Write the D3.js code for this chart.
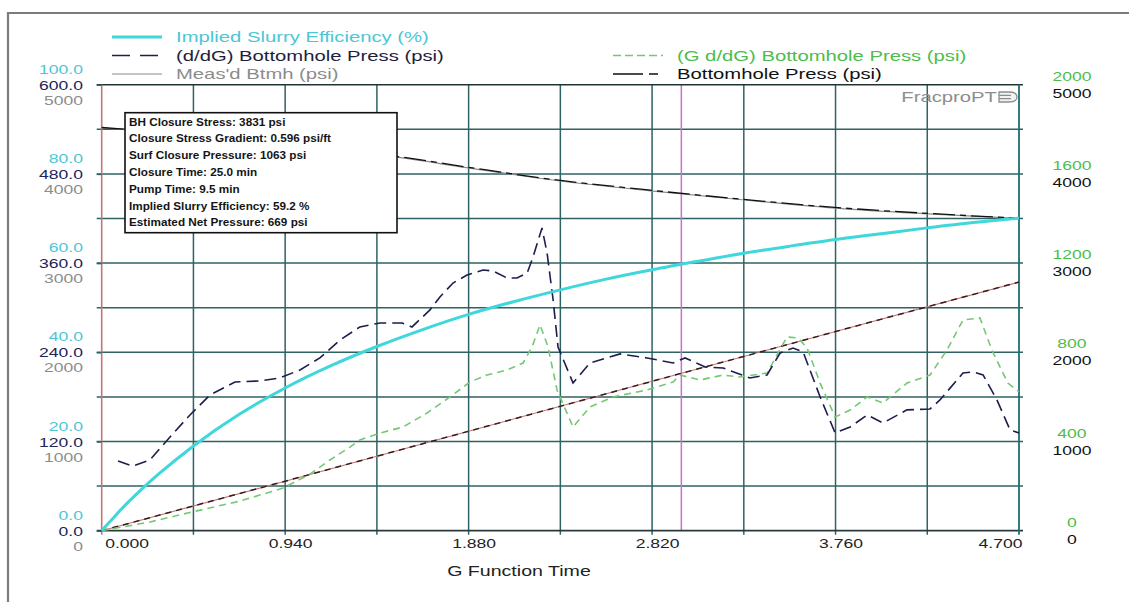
<!DOCTYPE html>
<html>
<head>
<meta charset="utf-8">
<script src="https://cdn.jsdelivr.net/npm/d3@7"></script>
<style>
  body { margin: 0; background: #fff; }
  svg { display: block; }
  text { font-family: "Liberation Sans", Arial, sans-serif; }
</style>
</head>
<body>
<svg id="chart" width="1129" height="602"></svg>
<script>
// ---- axis ticks ----
const gTicks = [0, 0.94, 1.88, 2.82, 3.76, 4.70];
const gTickLabels = ["0.000", "0.940", "1.880", "2.820", "3.760", "4.700"];
const effTicks = [0, 20, 40, 60, 80, 100];
const dpTicks = [0, 120, 240, 360, 480, 600];
const measTicks = [0, 1000, 2000, 3000, 4000, 5000];
const gdpTicks = [0, 400, 800, 1200, 1600, 2000];
const bhTicks = [0, 1000, 2000, 3000, 4000, 5000];

// ---- series ----
const effG   = [0, 0.05, 0.1, 0.2, 0.3, 0.47, 0.705, 0.94, 1.175, 1.41, 1.645, 1.88, 2.115, 2.35, 2.585, 2.82, 3.055, 3.29, 3.525, 3.76, 3.995, 4.23, 4.465, 4.7];
const effPct = [0, 2.4, 4.8, 9.1, 13.0, 19.0, 26.1, 32.0, 37.0, 41.3, 45.1, 48.5, 51.4, 54.0, 56.4, 58.5, 60.4, 62.2, 63.8, 65.3, 66.6, 67.9, 69.1, 70.1];

const dpG = [0.084, 0.160, 0.247, 0.350, 0.452, 0.555, 0.683, 0.811, 0.913, 1.016, 1.118, 1.221, 1.323, 1.426, 1.539, 1.590, 1.682, 1.733, 1.800, 1.872, 1.954, 2.005, 2.077, 2.128, 2.180, 2.210, 2.256, 2.282, 2.313, 2.338, 2.415, 2.502, 2.656, 2.794, 2.928, 2.989, 3.092, 3.184, 3.281, 3.322, 3.409, 3.476, 3.542, 3.594, 3.681, 3.758, 3.835, 3.922, 4.003, 4.126, 4.244, 4.295, 4.413, 4.464, 4.516, 4.587, 4.654, 4.700];
const dpPsi = [93.8, 86.9, 95.1, 126.1, 155.7, 182.6, 200.1, 201.5, 205.5, 216.3, 232.4, 256.6, 274.1, 279.5, 279.5, 274.1, 297.0, 314.4, 333.2, 344.0, 350.7, 349.4, 340.0, 340.0, 346.7, 368.2, 407.2, 373.6, 310.4, 247.2, 198.7, 225.7, 237.8, 232.4, 225.7, 232.4, 220.2, 218.9, 209.5, 205.5, 209.5, 239.1, 245.8, 240.4, 179.9, 131.5, 139.5, 155.7, 145.0, 162.5, 163.8, 175.9, 212.2, 213.6, 209.5, 175.9, 135.6, 131.5];

const gdpG = [0, 0.247, 0.463, 0.709, 0.929, 1.067, 1.169, 1.272, 1.323, 1.426, 1.544, 1.667, 1.785, 1.887, 1.974, 2.077, 2.159, 2.205, 2.246, 2.287, 2.333, 2.415, 2.502, 2.620, 2.794, 2.928, 2.963, 3.066, 3.184, 3.271, 3.409, 3.511, 3.568, 3.614, 3.681, 3.758, 3.835, 3.922, 4.003, 4.126, 4.244, 4.331, 4.413, 4.500, 4.561, 4.643, 4.700];
const gdpPsi = [0, 39, 84, 133, 191, 254, 317, 375, 407, 438, 465, 528, 600, 667, 698, 721, 752, 824, 923, 824, 631, 465, 555, 600, 631, 667, 698, 676, 698, 689, 707, 869, 864, 820, 662, 510, 541, 600, 573, 662, 698, 810, 945, 954, 810, 662, 622];

const tangentG = [0, 0.94, 1.88, 2.82, 3.76, 4.70];
const tangentPsi = [0, 222, 446, 670, 893, 1115];

const bhG   = [0, 0.12, 0.4, 0.8, 1.2, 1.53, 1.87, 2.33, 2.8, 3.28, 3.74, 4.21, 4.7];
const bhPsi = [4520, 4500, 4440, 4360, 4270, 4190, 4077, 3932, 3820, 3716, 3627, 3560, 3503];
const measG   = [0, 0.12, 0.4, 0.8, 1.2, 1.53, 1.87, 2.33, 2.8, 3.28, 3.74, 4.21, 4.7];
const measPsi = [4515, 4495, 4432, 4352, 4262, 4182, 4070, 3926, 3812, 3710, 3620, 3555, 3500];

const closureG = 2.97;

const infoLines = [
  "BH Closure Stress: 3831 psi",
  "Closure Stress Gradient: 0.596 psi/ft",
  "Surf Closure Pressure: 1063 psi",
  "Closure Time: 25.0 min",
  "Pump Time: 9.5 min",
  "Implied Slurry Efficiency: 59.2 %",
  "Estimated Net Pressure: 669 psi"
];

// ---- colours ----
const C = {
  eff: "#3fd6dc", effText: "#4cc6d6",
  dp: "#1d1d4e", dpText: "#23235a",
  meas: "#8a8a8a", measText: "#8c8c8c",
  gdp: "#74c874", gdpText: "#4cbd4c",
  bh: "#111111",
  tangentLine: "#c27272", tangentDash: "#3a1c1c",
  grid: "#2f6262", closure: "#cf6fc9"
};

const svg = d3.select("#chart");
const L = 101.7, R = 1019, T = 84.7, B = 530.7;

const x = d3.scaleLinear().domain([0, 4.7]).range([L, R]);
const yEff = d3.scaleLinear().domain([0, 100]).range([B, T]);
const yDp = d3.scaleLinear().domain([0, 600]).range([B, T]);
const yMeas = d3.scaleLinear().domain([0, 5000]).range([B, T]);
const yGdp = d3.scaleLinear().domain([0, 2000]).range([B, T]);
const yBh = d3.scaleLinear().domain([0, 5000]).range([B, T]);

const STRETCH = 1.35;
function widen(sel, k) {
  sel.each(function () {
    const len = this.getComputedTextLength();
    if (len > 0) {
      this.setAttribute("textLength", (len * k).toFixed(1));
      this.setAttribute("lengthAdjust", "spacingAndGlyphs");
    }
  });
}

// outer frame (top and left edges)
svg.append("path").attr("d", "M8,602 V13 H1129")
  .attr("fill", "none").attr("stroke", "#7c7c7c").attr("stroke-width", 2.2);

// plot background
svg.append("rect").attr("x", L).attr("y", T).attr("width", R - L).attr("height", B - T).attr("fill", "#fff");

// grid
const gridG = d3.range(0, 11).map(i => i * 0.47);
const gridE = d3.range(0, 11).map(i => i * 10);
const grid = svg.append("g");
grid.selectAll(".vg").data(gridG.slice(1, 10)).join("line")
  .attr("x1", d => x(d)).attr("x2", d => x(d)).attr("y1", T).attr("y2", B + 4)
  .attr("stroke", C.grid).attr("stroke-width", 1.5);
grid.selectAll(".hg").data(gridE.slice(1, 10)).join("line")
  .attr("x1", L - 5).attr("x2", R + 4).attr("y1", d => yEff(d)).attr("y2", d => yEff(d))
  .attr("stroke", C.grid).attr("stroke-width", 1.5);

// closure marker
svg.append("line").attr("x1", x(closureG)).attr("x2", x(closureG)).attr("y1", T).attr("y2", B)
  .attr("stroke", C.closure).attr("stroke-width", 1.5);

// frame of the plot
svg.append("line").attr("x1", L - 5).attr("x2", R + 4).attr("y1", T).attr("y2", T).attr("stroke", "#233").attr("stroke-width", 1.6);
svg.append("line").attr("x1", L - 5).attr("x2", R + 4).attr("y1", B).attr("y2", B).attr("stroke", "#2a3a3a").attr("stroke-width", 1.8);
svg.append("line").attr("x1", R).attr("x2", R).attr("y1", T).attr("y2", B + 4).attr("stroke", "#1f6f70").attr("stroke-width", 1.8);
svg.append("line").attr("x1", L).attr("x2", L).attr("y1", T).attr("y2", B + 4).attr("stroke", "#c47676").attr("stroke-width", 1.6);

// ---- series lines ----
const zip = (a, b) => a.map((v, i) => [v, b[i]]);
const lineFor = ys => d3.line().x(d => x(d[0])).y(d => ys(d[1]));

const plotG = svg.append("g");
// straight-line tangent on G dP/dG
plotG.append("path").datum(zip(tangentG, tangentPsi)).attr("d", lineFor(yGdp))
  .attr("fill", "none").attr("stroke", C.tangentLine).attr("stroke-width", 1.1);
plotG.append("path").datum(zip(tangentG, tangentPsi)).attr("d", lineFor(yGdp))
  .attr("fill", "none").attr("stroke", C.tangentDash).attr("stroke-width", 1.5).attr("stroke-dasharray", "6,5");
// G dP/dG
plotG.append("path").datum(zip(gdpG, gdpPsi)).attr("d", lineFor(yGdp))
  .attr("fill", "none").attr("stroke", C.gdp).attr("stroke-width", 1.6).attr("stroke-dasharray", "7,5");
// dP/dG
plotG.append("path").datum(zip(dpG, dpPsi)).attr("d", lineFor(yDp))
  .attr("fill", "none").attr("stroke", C.dp).attr("stroke-width", 1.6).attr("stroke-dasharray", "12,6");
// measured bottomhole
plotG.append("path").datum(zip(measG, measPsi)).attr("d", lineFor(yMeas).curve(d3.curveMonotoneX))
  .attr("fill", "none").attr("stroke", C.meas).attr("stroke-width", 1.2);
// bottomhole pressure
plotG.append("path").datum(zip(bhG, bhPsi)).attr("d", lineFor(yBh).curve(d3.curveMonotoneX))
  .attr("fill", "none").attr("stroke", C.bh).attr("stroke-width", 1.3).attr("stroke-dasharray", "22,5,6,5");
// slurry efficiency
plotG.append("path").datum(zip(effG, effPct)).attr("d", lineFor(yEff).curve(d3.curveMonotoneX))
  .attr("fill", "none").attr("stroke", C.eff).attr("stroke-width", 3);

// ---- axes ----
const fontTick = 13;
function styleAxis(g) {
  g.select(".domain").remove();
  g.attr("font-family", null).attr("font-size", null);
}

// bottom G-function axis
const xAxis = svg.append("g").attr("transform", `translate(0,${B})`)
  .call(d3.axisBottom(x).tickValues(gTicks).tickSize(0).tickPadding(0)
    .tickFormat((d, i) => gTickLabels[i]));
styleAxis(xAxis);
xAxis.selectAll("text")
  .attr("y", 13).attr("dy", "0.35em").attr("font-size", fontTick).attr("fill", "#222")
  .attr("text-anchor", (d, i) => i === 0 ? "start" : (i === gTicks.length - 1 ? "end" : "middle"))
  .attr("x", (d, i) => i === 0 ? 3 : (i === gTicks.length - 1 ? 3 : 5));

svg.append("text").attr("class", "title").attr("x", 519).attr("y", 571).attr("dy", "0.35em")
  .attr("text-anchor", "middle").attr("font-size", 14.5).attr("fill", "#222").text("G Function Time");

// left axes: three stacked scales
function leftAxis(scale, ticks, fmt, dy, color, tickLen) {
  const g = svg.append("g").attr("transform", `translate(${L},0)`)
    .call(d3.axisLeft(scale).tickValues(ticks).tickFormat(fmt).tickSize(tickLen).tickPadding(0));
  styleAxis(g);
  g.selectAll("line").attr("stroke", C.grid).attr("stroke-width", 1.5);
  g.selectAll("text").attr("x", 83 - L).attr("y", dy).attr("dy", "0.35em")
    .attr("text-anchor", "end").attr("font-size", fontTick).attr("fill", color);
  return g;
}
leftAxis(yEff, effTicks, d3.format(".1f"), -16, C.effText, 0);
leftAxis(yDp, dpTicks, d3.format(".1f"), 0, C.dpText, 5);
leftAxis(yMeas, measTicks, d3.format("d"), 15, C.measText, 0);

// right axes: two stacked scales
function rightAxis(scale, ticks, dy, color) {
  const g = svg.append("g").attr("transform", `translate(${R},0)`)
    .call(d3.axisRight(scale).tickValues(ticks).tickFormat(d3.format("d")).tickSize(0).tickPadding(0));
  styleAxis(g);
  g.selectAll("text").attr("x", 1072 - R).attr("y", dy).attr("dy", "0.35em")
    .attr("text-anchor", "middle").attr("font-size", fontTick).attr("fill", color);
  return g;
}
rightAxis(yGdp, gdpTicks, -9, C.gdpText);
rightAxis(yBh, bhTicks, 8, "#111");

// ---- legend ----
const legend = svg.append("g");
const legendItems = [
  { label: "Implied Slurry Efficiency (%)", x: 112, y: 37, color: C.eff, text: C.effText, width: 3, dash: null },
  { label: "(d/dG) Bottomhole Press (psi)", x: 112, y: 55.5, color: C.dp, text: "#1e1e3c", width: 1.6, dash: "18,10" },
  { label: "Meas'd Btmh (psi)", x: 112, y: 74, color: C.meas, text: C.measText, width: 1.2, dash: null },
  { label: "(G d/dG) Bottomhole Press (psi)", x: 613, y: 55.5, color: C.gdp, text: C.gdpText, width: 1.6, dash: "8,4" },
  { label: "Bottomhole Press (psi)", x: 613, y: 74, color: "#111", text: "#111", width: 1.6, dash: "30,6,9,100" }
];
legendItems.forEach(it => {
  legend.append("line").attr("x1", it.x).attr("x2", it.x + 50).attr("y1", it.y).attr("y2", it.y)
    .attr("stroke", it.color).attr("stroke-width", it.width).attr("stroke-dasharray", it.dash);
  legend.append("text").attr("x", it.x + 64).attr("y", it.y).attr("dy", "0.35em")
    .attr("font-size", 15).attr("fill", it.text).text(it.label);
});

// ---- product mark ----
const mark = svg.append("g");
mark.append("text").attr("x", 997).attr("y", 97).attr("dy", "0.35em").attr("text-anchor", "end")
  .attr("font-size", 15).attr("fill", "#8d8d8d").text("FracproPT");
mark.append("path").attr("d", "M999,92 H1009 Q1017,92 1017,97 Q1017,102 1009,102 H999 Z M999,95.3 H1011 M999,98.7 H1011")
  .attr("fill", "#f2f2f2").attr("stroke", "#8d8d8d").attr("stroke-width", 1.3);

// ---- summary box ----
const info = svg.append("g");
info.append("rect").attr("x", 125).attr("y", 112.7).attr("width", 272).attr("height", 120)
  .attr("fill", "#fff").attr("stroke", "#111").attr("stroke-width", 1.6);
const infoText = info.selectAll("text").data(infoLines).join("text")
  .attr("x", 129).attr("y", (d, i) => 121.7 + i * 16.8).attr("dy", "0.35em")
  .attr("font-size", 11).attr("font-weight", "bold").attr("fill", "#151515").text(d => d);

// widen glyphs to the chart's wide type
widen(svg.selectAll(".tick text"), STRETCH);
widen(svg.selectAll("text.title"), STRETCH);
widen(legend.selectAll("text"), STRETCH);
widen(mark.selectAll("text"), STRETCH);
let longest = 0;
infoText.each(function () { longest = Math.max(longest, this.getComputedTextLength()); });
widen(infoText, 202 / longest);
</script>
</body>
</html>
